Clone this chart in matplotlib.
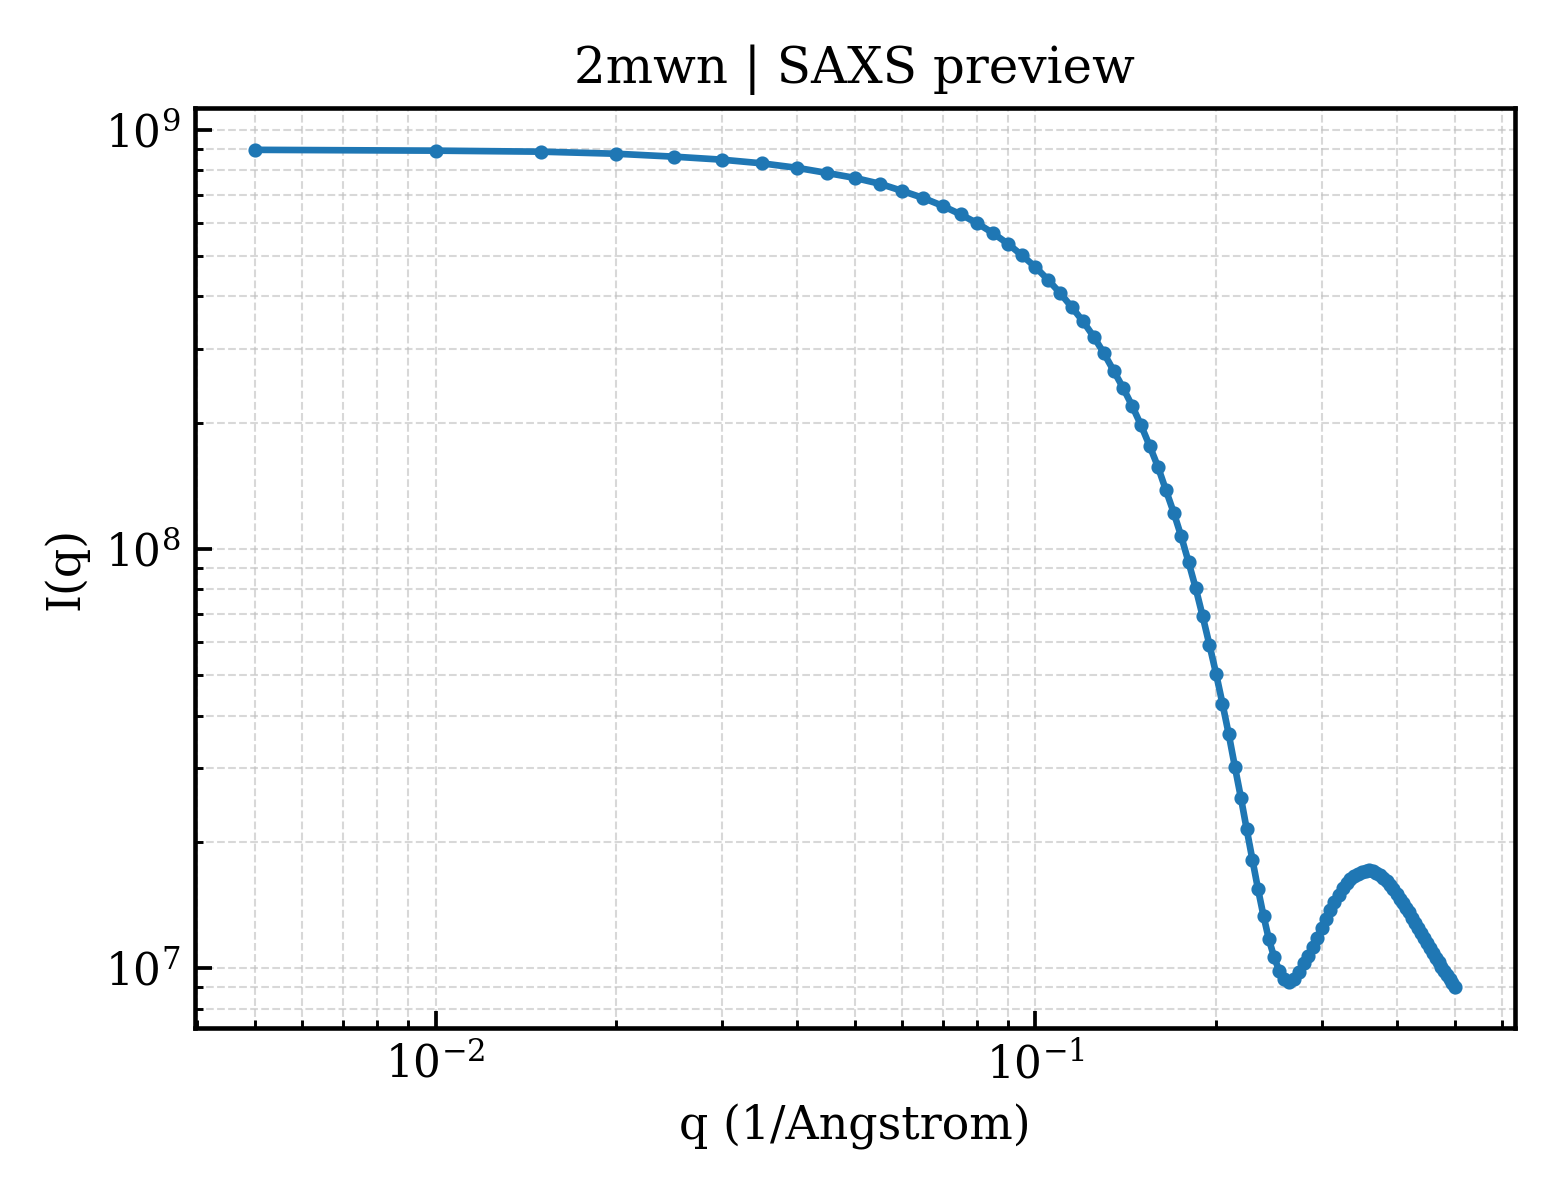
import matplotlib
matplotlib.use('Agg')
import matplotlib.pyplot as plt

# q grid (1/Angstrom)
q = [0.005, 0.010, 0.015, 0.020, 0.025, 0.030, 0.035, 0.040, 0.045, 0.050,
     0.055, 0.060, 0.065, 0.070, 0.075, 0.080, 0.085, 0.090, 0.095, 0.100,
     0.105, 0.110, 0.115, 0.120, 0.125, 0.130, 0.135, 0.140, 0.145, 0.150,
     0.155, 0.160, 0.165, 0.170, 0.175, 0.180, 0.185, 0.190, 0.195, 0.200,
     0.205, 0.210, 0.215, 0.220, 0.225, 0.230, 0.235, 0.240, 0.245, 0.250,
     0.255, 0.260, 0.265, 0.270, 0.275, 0.280, 0.285, 0.290, 0.295, 0.300,
     0.305, 0.310, 0.315, 0.320, 0.325, 0.330, 0.335, 0.340, 0.345, 0.350,
     0.355, 0.360, 0.365, 0.370, 0.375, 0.380, 0.385, 0.390, 0.395, 0.400,
     0.405, 0.410, 0.415, 0.420, 0.425, 0.430, 0.435, 0.440, 0.445, 0.450,
     0.455, 0.460, 0.465, 0.470, 0.475, 0.480, 0.485, 0.490, 0.495, 0.500]

# intensita'
intensity = [8.95e8, 8.91e8, 8.86e8, 8.76e8, 8.62e8, 8.48e8, 8.31e8, 8.11e8, 7.88e8, 7.67e8,
             7.43e8, 7.14e8, 6.87e8, 6.58e8, 6.28e8, 5.98e8, 5.66e8, 5.34e8, 5.01e8, 4.70e8,
             4.38e8, 4.07e8, 3.77e8, 3.49e8, 3.21e8, 2.93e8, 2.66e8, 2.42e8, 2.19e8, 1.97e8,
             1.76e8, 1.57e8, 1.38e8, 1.22e8, 1.07e8, 9.29e7, 8.05e7, 6.90e7, 5.90e7, 5.04e7,
             4.27e7, 3.61e7, 3.02e7, 2.55e7, 2.14e7, 1.81e7, 1.54e7, 1.33e7, 1.17e7, 1.06e7,
             9.83e6, 9.41e6, 9.25e6, 9.39e6, 9.76e6, 1.025e7, 1.071e7, 1.125e7, 1.182e7, 1.246e7,
             1.306e7, 1.372e7, 1.434e7, 1.494e7, 1.548e7, 1.591e7, 1.628e7, 1.656e7, 1.678e7, 1.694e7,
             1.704e7, 1.709e7, 1.704e7, 1.686e7, 1.663e7, 1.636e7, 1.609e7, 1.574e7, 1.540e7, 1.498e7,
             1.461e7, 1.426e7, 1.391e7, 1.357e7, 1.317e7, 1.277e7, 1.243e7, 1.209e7, 1.176e7, 1.144e7,
             1.113e7, 1.083e7, 1.057e7, 1.031e7, 1.006e7, 9.81e6, 9.60e6, 9.39e6, 9.21e6, 9.03e6]

title = '2mwn | SAXS preview'

plt.rcParams['font.family'] = 'serif'
plt.rcParams['font.serif'] = ['DejaVu Serif']
plt.rcParams['mathtext.fontset'] = 'dejavuserif'

fig, ax = plt.subplots(figsize=(5.2, 4), dpi=300)
fig.subplots_adjust(left=0.125, right=0.971, top=0.91, bottom=0.143)

ax.plot(q, intensity, '-o', color='#1f77b4', lw=1.6, markersize=2.4)
ax.set_xscale('log')
ax.set_yscale('log')

ax.set_title(title, fontsize=12)
ax.set_xlabel('q (1/Angstrom)', fontsize=11)
ax.set_ylabel('I(q)', fontsize=11)

ax.tick_params(which='both', direction='in', top=False, right=False)
ax.tick_params(which='major', length=4, width=0.9, labelsize=10.5)
ax.tick_params(which='minor', length=2, width=0.7)
for s in ax.spines.values():
    s.set_linewidth(1.1)

ax.grid(True, which='both', linestyle='--', linewidth=0.5, color='0.75', alpha=0.6)

plt.savefig('out.png', dpi=300)
